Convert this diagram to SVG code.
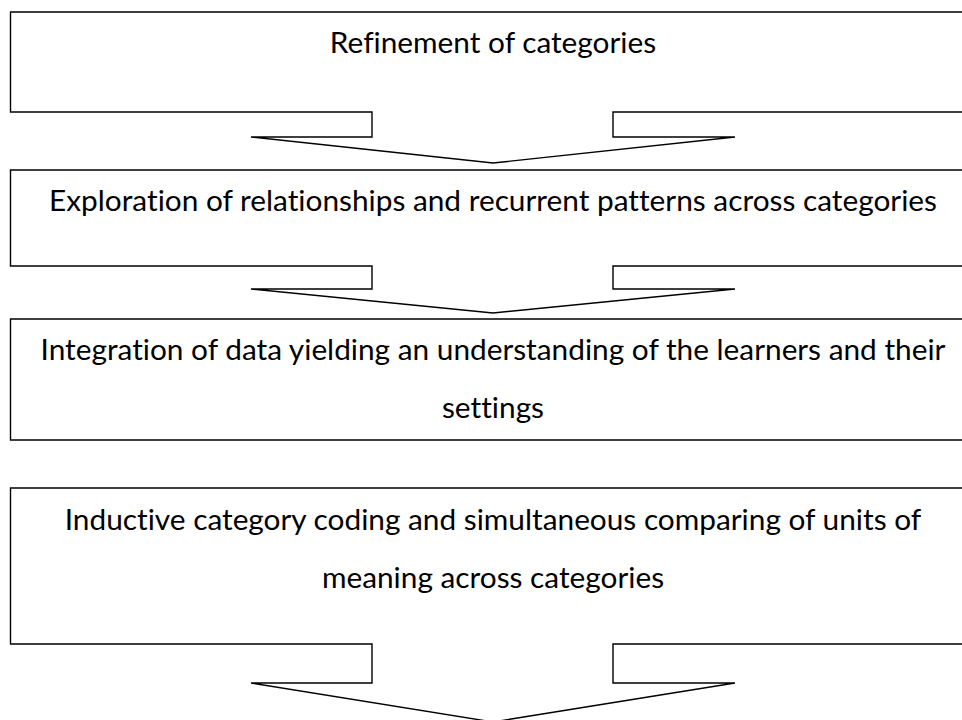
<svg xmlns="http://www.w3.org/2000/svg" width="962" height="720" viewBox="0 0 962 720">
  <style>
    .shape { fill: #ffffff; stroke: #000000; stroke-width: 1.4; stroke-linejoin: miter; }
    .label { font-family: "Lato", "Open Sans", "Liberation Sans", sans-serif; font-size: 29.8px; fill: #000000; text-anchor: middle; font-variant-ligatures: none; }
  </style>
  <rect x="0" y="0" width="962" height="720" fill="#ffffff"/>

  <!-- Step: refinement (callout with down arrow) -->
  <g id="refinement">
    <path class="shape" d="M980,12 H10.5 V112 H372 V137 H251 L493,163 L735,137 H613 V112 H980"/>
    <text class="label" x="493" y="53">Refinement of categories</text>
  </g>

  <!-- Step: exploration (callout with down arrow) -->
  <g id="exploration">
    <path class="shape" d="M980,170 H10.5 V266 H372 V289 H251 L493,313 L735,289 H613 V266 H980"/>
    <text class="label" x="493" y="211">Exploration of relationships and recurrent patterns across categories</text>
  </g>

  <!-- Step: integration (plain box) -->
  <g id="integration">
    <path class="shape" d="M980,319 H10.5 V440 H980"/>
    <text class="label" x="493" y="360">Integration of data yielding an understanding of the learners and their</text>
    <text class="label" x="493" y="418">settings</text>
  </g>

  <!-- Step: inductive coding (callout with down arrow) -->
  <g id="coding">
    <path class="shape" d="M980,488 H10.5 V644 H372 V683 H251 L493,722 L735,683 H613 V644 H980"/>
    <text class="label" x="493" y="530">Inductive category coding and simultaneous comparing of units of</text>
    <text class="label" x="493" y="588">meaning across categories</text>
  </g>

  <g id="connectors"/>
</svg>
